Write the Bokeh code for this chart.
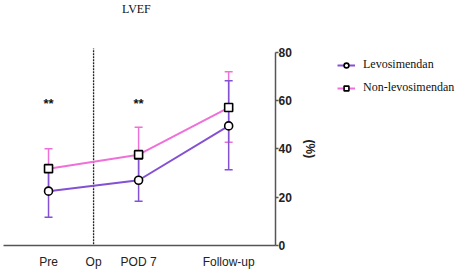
from bokeh.plotting import figure
from bokeh.layouts import row
from bokeh.models import (ColumnDataSource, Range1d, LinearAxis, FixedTicker, Whisker,
                          TeeHead, Legend, LegendItem)
from bokeh.core.properties import value
from bokeh.embed import file_html
from bokeh.resources import INLINE
import math

# data
categories = ["Pre", "Op", "POD 7", "Follow-up"]
cat_pos = [0, 1, 2, 4]
time_pos = [0, 2, 4]
levo_mean = [22.5, 27.0, 49.5]
levo_lower = [11.7, 18.3, 31.3]
levo_upper = [33.3, 35.7, 68.2]
non_mean = [31.8, 37.6, 57.1]
non_lower = [23.6, 26.3, 42.7]
non_upper = [40.0, 48.9, 71.9]
star_pos = [0, 2]
star_y = [58.8, 58.8]
star_text = ["**", "**"]
y_ticks = [0, 20, 40, 60, 80]
series_names = ["Levosimendan", "Non-levosimendan"]
title_text = "LVEF"
y_label = "(%)"

PURPLE = "#8450d4"
PINK = "#ef70d8"

yr = Range1d(0, 101.4)
p = figure(width=300, height=273, output_backend="svg", toolbar_location=None,
           x_range=Range1d(-1.0, 5.04), y_range=yr,
           min_border_left=3, min_border_right=25, min_border_top=0, min_border_bottom=28)
p.outline_line_color = None
p.grid.visible = False
p.background_fill_color = None
p.border_fill_color = "white"

# axes
p.xaxis.ticker = FixedTicker(ticks=cat_pos)
p.xaxis.major_label_overrides = {c: l for c, l in zip(cat_pos, categories)}
p.xaxis.major_tick_line_color = None
p.xaxis.minor_tick_line_color = None
p.xaxis.axis_line_color = "#555555"
p.xaxis.axis_line_width = 1.5
p.xaxis.major_label_text_font = "Liberation Sans"
p.xaxis.major_label_text_font_size = "12px"
p.xaxis.major_label_text_color = "#222222"
p.xaxis.major_label_standoff = 3
p.yaxis.visible = False

ry = LinearAxis(ticker=FixedTicker(ticks=y_ticks), bounds=(y_ticks[0], y_ticks[-1]))
ry.axis_line_color = "#555555"
ry.axis_line_width = 1.5
ry.major_tick_line_color = "#555555"
ry.major_tick_line_width = 1.5
ry.major_tick_out = 3
ry.major_tick_in = 0
ry.minor_tick_line_color = None
ry.major_label_text_font = "Liberation Sans"
ry.major_label_text_font_style = "bold"
ry.major_label_text_font_size = "12px"
ry.major_label_text_color = "#222222"
ry.major_label_standoff = 0
p.add_layout(ry, "right")

# title as text inside the frame
p.text(x=[1.95], y=[97.7], text=[title_text], text_align="center", text_baseline="middle",
       text_font=value("Liberation Serif"), text_font_size="12px", text_color="#111111")

# dashed "Op" line
p.segment(x0=[cat_pos[1]], y0=[0.5], x1=[cat_pos[1]], y1=[81.5],
          line_color="#222222", line_width=1.3, line_dash="2 1")

non_src = ColumnDataSource(dict(x=time_pos, y=non_mean, lo=non_lower, hi=non_upper))
levo_src = ColumnDataSource(dict(x=time_pos, y=levo_mean, lo=levo_lower, hi=levo_upper))

for src, col in ((non_src, PINK), (levo_src, PURPLE)):
    w = Whisker(source=src, base="x", lower="lo", upper="hi", dimension="height",
                line_color=col, line_width=1.5,
                upper_head=TeeHead(size=8, line_color=col, line_width=1.5),
                lower_head=TeeHead(size=8, line_color=col, line_width=1.5))
    p.add_layout(w)

p.line("x", "y", source=non_src, line_color=PINK, line_width=2)
p.line("x", "y", source=levo_src, line_color=PURPLE, line_width=2)
p.scatter("x", "y", source=non_src, marker="square", size=8,
          fill_color="white", line_color="black", line_width=1.6)
p.scatter("x", "y", source=levo_src, marker="circle", size=8,
          fill_color="white", line_color="black", line_width=1.6)

p.text(x=star_pos, y=star_y, text=star_text, text_align="center", text_baseline="middle",
       text_font=value("Liberation Sans"), text_font_size="13px", text_font_style="bold",
       text_color="#111111")

# right panel: axis label and legend
q = figure(width=159, height=273, output_backend="svg", toolbar_location=None,
           x_range=Range1d(0, 159), y_range=yr, min_border=0,
           x_axis_location=None, y_axis_location=None)
q.grid.visible = False
q.outline_line_color = None
q.border_fill_color = "white"
q.background_fill_color = None
q.extra_x_ranges = {"off": Range1d(100, 101)}

q.text(x=[9], y=[(y_ticks[0] + y_ticks[-1]) / 2], text=[y_label], angle=-math.pi / 2,
       text_align="center", text_baseline="middle",
       text_font=value("Liberation Sans"), text_font_style="bold", text_font_size="12px",
       text_color="#222222")

ql_levo = q.line(x=time_pos, y=levo_mean, x_range_name="off", line_color=PURPLE, line_width=2)
qm_levo = q.scatter(x=time_pos, y=levo_mean, x_range_name="off", marker="circle", size=8,
                    fill_color="white", line_color="black", line_width=1.6)
ql_non = q.line(x=time_pos, y=non_mean, x_range_name="off", line_color=PINK, line_width=2)
qm_non = q.scatter(x=time_pos, y=non_mean, x_range_name="off", marker="square", size=8,
                   fill_color="white", line_color="black", line_width=1.6)
legend = Legend(items=[LegendItem(label=series_names[0], renderers=[ql_levo, qm_levo]),
                       LegendItem(label=series_names[1], renderers=[ql_non, qm_non])],
                location=(37, 150), glyph_width=18, glyph_height=12, label_standoff=8,
                spacing=8, padding=0, margin=0,
                label_text_font="Liberation Serif", label_text_font_size="12px",
                label_text_color="#111111",
                border_line_color=None, background_fill_alpha=0)
q.add_layout(legend)

layout = row(p, q, spacing=0)
open("out.html", "w").write(file_html(layout, INLINE))
